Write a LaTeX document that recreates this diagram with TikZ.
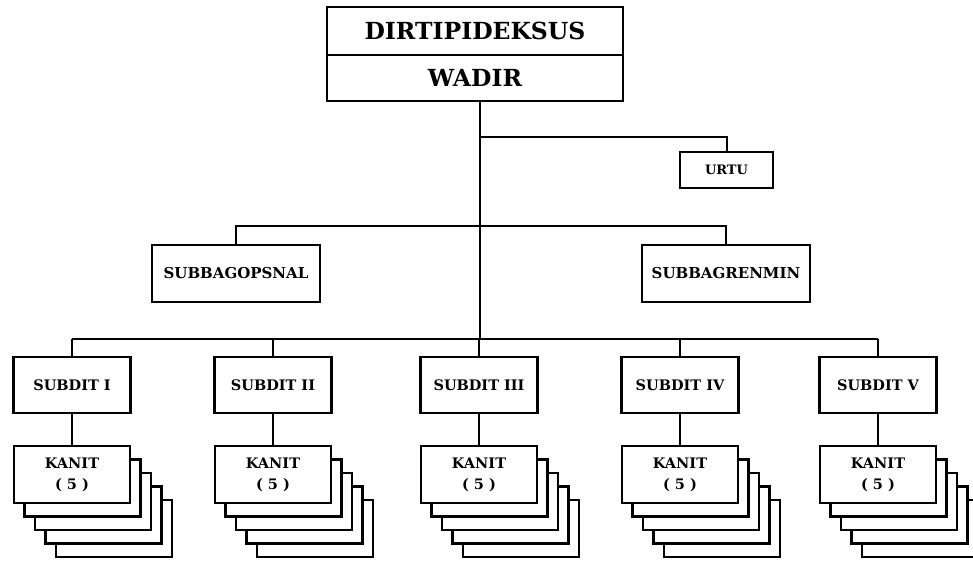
\documentclass[tikz,border=0pt]{standalone}
\usepackage{fontspec}
\setmainfont{DejaVu Serif}
\usetikzlibrary{positioning,shadows}

\begin{document}
\begin{tikzpicture}[x=1pt,y=-1pt]

    \tikzset{
      box/.style={
        draw,
        line width=2.6pt,
        fill=white,
        inner sep=0pt,
        align=center,
        font=\bfseries,
        drop shadow={opacity=0.15,shadow xshift=0.8pt,shadow yshift=-1pt},
      },
      link/.style={line width=2pt},
    }
    \useasboundingbox (0,0) rectangle (973,563);
	% pimpinan
	\node[box,minimum width=296pt,minimum height=48pt,font=\bfseries\fontsize{23.5}{26}\selectfont] (dir) at (475,31) {DIRTIPIDEKSUS};
	\node[box,minimum width=296pt,minimum height=46pt,font=\bfseries\fontsize{23.5}{26}\selectfont,below=-2.6pt of dir] (wadir) {WADIR};
	% staf
	\node[box,minimum width=93pt,minimum height=36pt,font=\bfseries\fontsize{13}{15}\selectfont] (urtu) at (726.5,170) {URTU};
	\node[box,minimum width=168pt,minimum height=57pt,font=\bfseries\fontsize{15}{17}\selectfont] (opsnal) at (236,273.5) {SUBBAGOPSNAL};
	\node[box,minimum width=168pt,minimum height=57pt,font=\bfseries\fontsize{15}{17}\selectfont] (renmin) at (726,273.5) {SUBBAGRENMIN};
	\coordinate (ju) at (480,137);
	\coordinate (js) at (480,226);
	\coordinate (jd) at (480,339);
	\draw[link] (wadir.south -| jd)--(jd);
	\draw[link] (ju) -| (urtu.north);
	\draw[link] (opsnal.north) |- (js) -| (renmin.north);
	% subdit dan kanit
	\foreach \x/\n/\t in {72/1/I,273/2/II,479/3/III,680/4/IV,878/5/V}{
	  \foreach \i in {4,3,2,1}
	    \draw[box] ({\x-58+10.5*\i},{446+13.5*\i}) rectangle ++(116,57);
	  \node[box,minimum width=116pt,minimum height=57pt,font=\bfseries\fontsize{14.5}{21}\selectfont] (kanit\n) at (\x,474.5) {KANIT\\( 5 )};
	  \node[box,minimum width=117pt,minimum height=56pt,font=\bfseries\fontsize{14.5}{17}\selectfont] (subdit\n) at (\x,385) {SUBDIT \t};
	  \draw[link] (subdit\n.south)--(kanit\n.north);
	  \draw[link] (subdit\n.north)--(subdit\n.north |- jd);
	}
	\draw[link] (subdit1.north |- jd)--(subdit5.north |- jd);

\end{tikzpicture}
\end{document}
